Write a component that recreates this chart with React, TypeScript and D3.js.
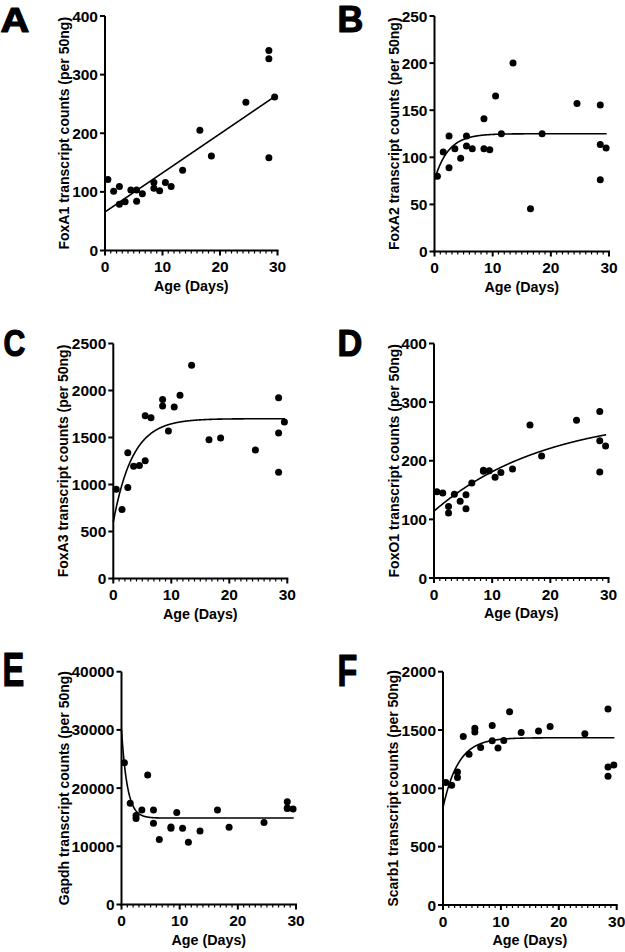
import React from 'react';
import * as d3 from 'd3';

// Shared sampling ages (days)
const AGE = [0.5, 1.5, 2.5, 2.5, 3.5, 4.5, 5.5, 5.5, 6.5, 8.5, 8.5, 9.5, 10.5, 11.5, 13.5, 16.5, 18.5, 24.5, 28.5, 28.5, 28.5, 29.5];

const FOXA1 = [121, 101, 109, 79, 83, 103, 103, 84, 97, 116, 106, 102, 116, 109, 137, 205, 161, 253, 341, 327, 158, 262];
const FOXA2 = [80, 105.5, 122.5, 89, 109, 99, 122.5, 112, 109, 141, 109, 108, 165, 125, 200, 45.5, 125, 157, 155.5, 113.6, 76.3, 110];
const FOXA3 = [949, 733, 967, 1337, 1195, 1202, 1252, 1732, 1711, 1903, 1835, 1568, 1824, 1949, 2269, 1476, 1494, 1366, 1924, 1547, 1131, 1664];
const FOXO1 = [147, 145, 122, 111, 143, 131, 142, 118, 162, 182, 184, 183, 172, 180, 186, 261, 208, 269, 284, 234, 181, 225];
const GAPDH = [24350, 17410, 15310, 14790, 16220, 22250, 16220, 13940, 11150, 13310, 13090, 15820, 13090, 10700, 12630, 16220, 13260, 14110, 17640, 16500, 16600, 16390];
const SCARB1 = [1050, 1027, 1141, 1092, 1445, 1292, 1516, 1482, 1351, 1539, 1408, 1346, 1411, 1656, 1479, 1491, 1531, 1468, 1681, 1183, 1104, 1201];

const X_TICKS = [0, 10, 20, 30];
const Y_TICKS_A = [0, 100, 200, 300, 400];
const Y_TICKS_B = [0, 50, 100, 150, 200, 250];
const Y_TICKS_C = [0, 500, 1000, 1500, 2000, 2500];
const Y_TICKS_D = [0, 100, 200, 300, 400];
const Y_TICKS_E = [0, 10000, 20000, 30000, 40000];
const Y_TICKS_F = [0, 500, 1000, 1500, 2000];

// Fitted models: linear (intercept, slope) or exponential (Y0, plateau, k)
const FIT_A = { kind: 'linear', intercept: 65.7, slope: 6.67 };
const FIT_B = { kind: 'exp', y0: 76, plateau: 125, k: 0.42 };
const FIT_C = { kind: 'exp', y0: 600, plateau: 1700, k: 0.3 };
const FIT_D = { kind: 'exp', y0: 114, plateau: 280, k: 0.052 };
const FIT_E = { kind: 'exp', y0: 30000, plateau: 14850, k: 1.0 };
const FIT_F = { kind: 'exp', y0: 834, plateau: 1434, k: 0.38 };

const FONT = "'Liberation Sans', Arial, Helvetica, sans-serif";

type Fit = { kind: string; intercept?: number; slope?: number; y0?: number; plateau?: number; k?: number };

function fitValue(f: Fit, x: number) {
  if (f.kind === 'linear') return (f.intercept as number) + (f.slope as number) * x;
  return (f.plateau as number) + ((f.y0 as number) - (f.plateau as number)) * Math.exp(-(f.k as number) * x);
}

type PanelProps = {
  letter: string;
  label: string;
  values: number[];
  yTicks: number[];
  fit: Fit;
  left: number; right: number; top: number; bottom: number;
  labelOffset: number;
  lx: number; ltop: number; lw: number; lh: number;
};

function Panel(p: PanelProps) {
  const x = d3.scaleLinear().domain([0, 30]).range([p.left, p.right]);
  const yMax = p.yTicks[p.yTicks.length - 1];
  const y = d3.scaleLinear().domain([0, yMax]).range([p.bottom, p.top]);
  const fitX = d3.range(0, 29.6 + 1e-9, 0.05);
  const line = d3.line<number>().x(d => x(d)).y(d => y(fitValue(p.fit, d)));
  const minor = d3.range(0, 31, 1);
  const cy = (p.top + p.bottom) / 2;
  return (
    <g>
      <text x={p.lx + 0.6} y={p.ltop + p.lh - 0.6} fontSize={(p.lh - 1.2) / 0.716} fontWeight="bold" fontFamily={FONT}
        stroke="#000" strokeWidth={1.2} strokeLinejoin="round"
        textLength={p.lw - 1.2} lengthAdjust="spacingAndGlyphs">{p.letter}</text>
      {/* axes */}
      <line x1={p.left} x2={p.left} y1={p.top} y2={p.bottom + 1} stroke="#000" strokeWidth={2} />
      <line x1={p.left - 1} x2={p.right + 1} y1={p.bottom} y2={p.bottom} stroke="#000" strokeWidth={2} />
      {p.yTicks.map(t => (
        <g key={'y' + t}>
          <line x1={p.left - 5} x2={p.left} y1={y(t)} y2={y(t)} stroke="#000" strokeWidth={2} />
          <text x={p.left - 7} y={y(t)} dy="0.36em" textAnchor="end" fontSize={15.5} fontWeight="bold" fontFamily={FONT}>{t}</text>
        </g>
      ))}
      {minor.map(t => (
        <line key={'m' + t} x1={x(t)} x2={x(t)} y1={p.bottom} y2={p.bottom + (t % 10 === 0 ? 5 : 3)} stroke="#000" strokeWidth={t % 10 === 0 ? 2 : 1.2} />
      ))}
      {X_TICKS.map(t => (
        <text key={'x' + t} x={x(t)} y={p.bottom + 21.5} textAnchor="middle" fontSize={15.5} fontWeight="bold" fontFamily={FONT}>{t}</text>
      ))}
      <text x={(p.left + p.right) / 2} y={p.bottom + 40} textAnchor="middle" fontSize={14.3} fontWeight="bold" fontFamily={FONT}>Age (Days)</text>
      <text transform={`translate(${p.left - p.labelOffset},${cy}) rotate(-90)`} dy="0.36em" textAnchor="middle" fontSize={14} fontWeight="bold" fontFamily={FONT}>{p.label}</text>
      <path d={line(fitX) || ''} fill="none" stroke="#000" strokeWidth={1.6} />
      {p.values.map((v, i) => (
        <circle key={'p' + i} cx={x(AGE[i])} cy={y(v)} r={3.5} fill="#000" />
      ))}
    </g>
  );
}

export default function App() {
  return (
    <svg width={625} height={952} style={{ position: 'absolute', left: 0, top: 0, background: '#fff' }}>
      <rect width={625} height={952} fill="#fff" />
      <Panel letter="A" label="FoxA1 transcript counts (per 50ng)" values={FOXA1} yTicks={Y_TICKS_A} fit={FIT_A}
        left={105} right={277.5} top={16} bottom={250.5} labelOffset={41} lx={0} ltop={7} lw={30} lh={26} />
      <Panel letter="B" label="FoxA2 transcript counts (per 50ng)" values={FOXA2} yTicks={Y_TICKS_B} fit={FIT_B}
        left={434.5} right={609} top={16} bottom={251.5} labelOffset={41} lx={337} ltop={6} lw={27} lh={27} />
      <Panel letter="C" label="FoxA3 transcript counts (per 50ng)" values={FOXA3} yTicks={Y_TICKS_C} fit={FIT_C}
        left={113.3} right={287.3} top={343.5} bottom={578.5} labelOffset={50} lx={3} ltop={330} lw={23} lh={27} />
      <Panel letter="D" label="FoxO1 transcript counts (per 50ng)" values={FOXO1} yTicks={Y_TICKS_D} fit={FIT_D}
        left={434} right={608.5} top={343.5} bottom={578} labelOffset={40.5} lx={337} ltop={330} lw={26} lh={27} />
      <Panel letter="E" label="Gapdh transcript counts (per 50ng)" values={GAPDH} yTicks={Y_TICKS_E} fit={FIT_E}
        left={121.5} right={296} top={671.7} bottom={904.5} labelOffset={57.5} lx={2} ltop={652} lw={23} lh={35} />
      <Panel letter="F" label="Scarb1 transcript counts (per 50ng)" values={SCARB1} yTicks={Y_TICKS_F} fit={FIT_F}
        left={443} right={616.7} top={671.7} bottom={905} labelOffset={50} lx={337} ltop={654} lw={21} lh={33} />
    </svg>
  );
}
